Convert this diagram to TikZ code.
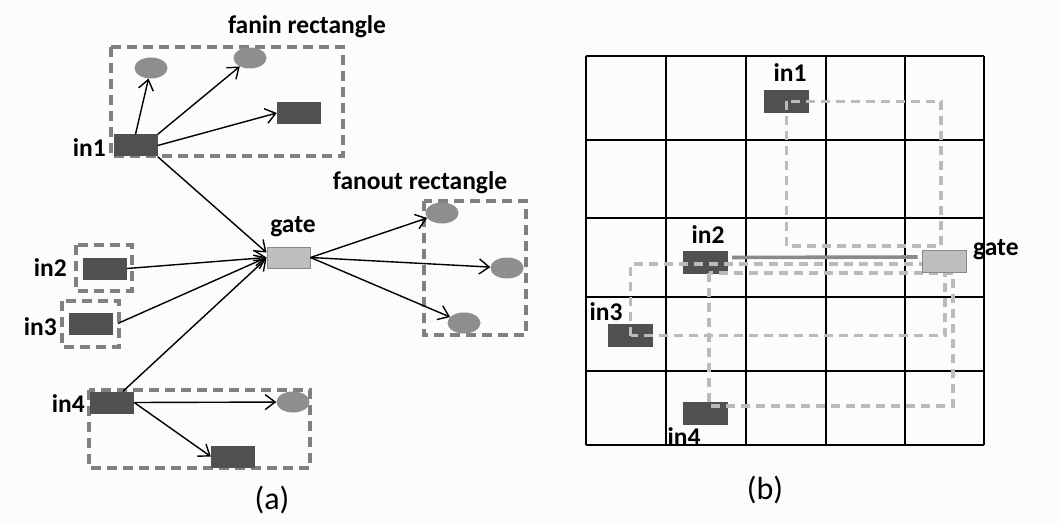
\documentclass[tikz,border=0pt]{standalone}
\usepackage{fontspec}
\setmainfont{Carlito}
\usetikzlibrary{arrows.meta, positioning, shapes.geometric}
\definecolor{fundo}{HTML}{FCFCFC}
\definecolor{escuro}{HTML}{505050}
\definecolor{pinocor}{HTML}{8E8E8E}
\definecolor{portacor}{HTML}{BEBEBE}
\definecolor{portaborda}{HTML}{8A8A8A}
\definecolor{caixacor}{HTML}{808080}
\definecolor{rotacor}{HTML}{BBBBBB}
\definecolor{fiocor}{HTML}{8A8A8A}
\tikzset{
celula/.style = {fill=escuro, minimum width=44pt, minimum height=22pt, inner sep=0pt},
pino/.style = {ellipse, fill=pinocor, minimum width=33pt, minimum height=21pt, inner sep=0pt},
porta/.style = {fill=portacor, draw=portaborda, line width=1pt, minimum width=43pt, minimum height=21pt, inner sep=0pt}
}
\tikzset{
rotulo/.style = {font=\bfseries\fontsize{25.5}{30}\selectfont, inner sep=0pt},
legenda/.style = {font=\fontsize{32}{36}\selectfont, inner sep=0pt},
caixa/.style = {draw=caixacor, line width=3.6pt, dash pattern=on 10pt off 6pt},
seta/.style = {draw=black, line width=1.4pt, -{Straight Barb[length=10pt,width=15pt]}},
rota/.style = {draw=rotacor, line width=3.6pt, dash pattern=on 9pt off 6pt},
fio/.style = {draw=fiocor, line width=3.6pt, shorten >= 4pt, shorten <= 4pt},
grade/.style = {draw=black, line width=1.8pt}
}
\begin{document}
\begin{tikzpicture}[x=1pt,y=-1pt]
    \fill[fundo] (0,0) rectangle (1061,524);
    \useasboundingbox (0,0) rectangle (1061,524);

    % (a) CAIXAS
    \draw[caixa] (111,47) rectangle (343,156);
    \draw[caixa] (76,245) rectangle (132,291);
    \draw[caixa] (62,301) rectangle (119,347);
    \draw[caixa] (89,390) rectangle (310,468);
    \draw[caixa] (424,201) rectangle (526,335);

    % (a) CELULAS
    \node[celula] (in1) at (135.5,145.5) {};
    \node[pino] (p1) at (151,68) {};
    \node[pino] (p2) at (250,58) {};
    \node[celula] (c1) at (299,113) {};
    \node[porta] (gate) at (288.5,257.5) {};
    \node[celula] (in2) at (105,268.5) {};
    \node[celula] (in3) at (90.5,323.5) {};
    \node[celula] (in4) at (112,402.5) {};
    \node[pino] (p3) at (293,402) {};
    \node[celula] (c2) at (233,456.5) {};
    \node[pino] (q1) at (442,213) {};
    \node[pino] (q2) at (507,268) {};
    \node[pino] (q3) at (464,323) {};

    \node[rotulo, anchor=east] (t1) at (106,148) {in1};
    \node[rotulo, anchor=east] (t2) at (67,268) {in2};
    \node[rotulo, anchor=east] (t3) at (57,327) {in3};
    \node[rotulo, anchor=east] (t4) at (85,404) {in4};
    \node[rotulo] (tg) at (293,227) {gate};
    \node[rotulo] (tfi) at (307,27) {fanin rectangle};
    \node[rotulo] (tfo) at (420,183) {fanout rectangle};
    \node[legenda] (la) at (272,500) {(a)};

    % (a) SETAS
    \draw[seta] (in1.north) -- (p1);
    \draw[seta] (in1.north east) -- (p2);
    \draw[seta] (in1.east) -- (c1.west);
    \draw[seta] (in1.south east) -- ([yshift=5pt]gate.west);
    \draw[seta] (in2.east) -- (gate.west);
    \draw[seta] ([xshift=5pt]in3.east) -- (gate.west);
    \draw[seta] ([xshift=11pt]in4.north) -- ([yshift=-1pt]gate.west);
    \draw[seta] (gate.east) -- (q1);
    \draw[seta] (gate.east) -- (q2);
    \draw[seta] (gate.east) -- (q3);
    \draw[seta] (in4.east) -- (p3);
    \draw[seta] (in4.east) -- (c2.west);

    % (b) GRADE
    \foreach \x in {586,666,746,826,905,984}
        \draw[grade] (\x,56) -- (\x,445);
    \foreach \y in {56,140,218,297,371,445}
        \draw[grade] (586,\y) -- (984,\y);

    % (b) CELULAS
    \node[celula, minimum width=45pt, minimum height=23pt] (in1b) at (786.5,101.5) {};
    \node[celula, minimum width=45pt, minimum height=23pt] (in2b) at (705.5,262.5) {};
    \node[celula, minimum width=45pt, minimum height=23pt] (in3b) at (630.5,335.5) {};
    \node[celula, minimum width=45pt, minimum height=23pt] (in4b) at (705.5,413) {};

    \node[rotulo] (u1) at (790,73) {in1};
    \node[rotulo] (u2) at (708,235) {in2};
    \node[rotulo] (u3) at (606,312) {in3};
    \node[rotulo] (u4) at (684,437) {in4};

    % (b) ROTAS
    \draw[rota] (in1b.center) rectangle (941,246);
    \draw[rota] (in3b.center) rectangle (945,264);
    \draw[rota] (709,273) rectangle (953,406);

    \node[porta, minimum width=44pt, minimum height=22pt] (gateb) at (944,261) {};
    \node[rotulo, anchor=west] (ug) at (973,250) {gate};
    \draw[fio] ([yshift=5pt]in2b.east) -- ([yshift=4pt]gateb.west);

    \node[legenda] (lb) at (765,490) {(b)};

\end{tikzpicture}
\end{document}
